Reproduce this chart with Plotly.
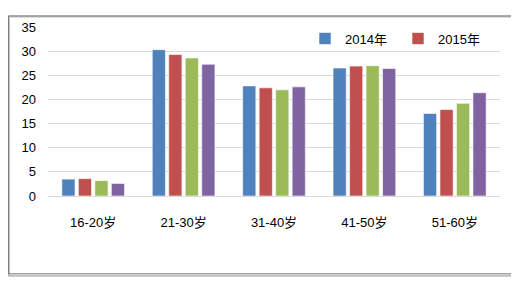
import plotly.graph_objects as go

categories = ["16-20岁", "21-30岁", "31-40岁", "41-50岁", "51-60岁"]
series_names = ["2014年", "2015年", "2016年", "2017年"]
v2014 = [3.5, 30.3, 22.8, 26.5, 17.1]
v2015 = [3.6, 29.3, 22.4, 26.9, 17.9]
v2016 = [3.2, 28.6, 22.0, 27.0, 19.2]
v2017 = [2.6, 27.3, 22.6, 26.4, 21.4]
colors = ["#4F81BD", "#C0504D", "#9BBB59", "#8064A2"]
y_ticks = [0, 5, 10, 15, 20, 25, 30, 35]

FONT = "Liberation Sans, Noto Sans CJK SC, sans-serif"

fig = go.Figure()
for name, vals, c, show in zip(series_names, [v2014, v2015, v2016, v2017], colors,
                               [True, True, False, False]):
    fig.add_trace(go.Bar(
        x=categories, y=vals, name=name, showlegend=show,
        marker=dict(color=c, line=dict(color="rgba(255,255,255,0.6)", width=1)),
    ))

# page body has an 8px margin; figure coordinates = window coordinates - 8
OFF = 8
W, H = 519 - OFF, 281 - OFF
L, T = 48 - OFF, 20 - OFF
R = W - (500 - OFF)
B = H - (196 - OFF)
pw, ph = W - L - R, H - T - B

def px(x):
    return (x - OFF - L) / pw

def py(y):
    return (H - B - (y - OFF)) / ph

fig.update_layout(
    width=W, height=H,
    margin=dict(l=L, r=R, t=T, b=B),
    paper_bgcolor="white", plot_bgcolor="white",
    barmode="group", bargap=0.27, bargroupgap=0.2,
    font=dict(family=FONT, size=12, color="#000000"),
    legend=dict(orientation="h", x=px(305), y=py(32), xanchor="left", yanchor="middle",
                font=dict(size=13), bgcolor="rgba(0,0,0,0)", entrywidth=48,
                itemwidth=30, tracegroupgap=0),
    xaxis=dict(showgrid=False, showline=True, linecolor="#D9D9D9", linewidth=1,
               ticks="", ticklabelstandoff=14, tickfont=dict(size=13)),
    yaxis=dict(range=[0, 35], tickvals=y_ticks, showgrid=True, gridcolor="#D9D9D9",
               gridwidth=1, zeroline=False, showline=False, ticks="",
               ticklabelstandoff=11, tickfont=dict(size=13)),
    shapes=[
        dict(type="rect", xref="paper", yref="paper",
             x0=px(9), x1=px(515), y0=py(279), y1=py(9),
             line=dict(color="#BFBFBF", width=2), layer="below"),
        dict(type="rect", xref="paper", yref="paper",
             x0=px(8.5), x1=px(513), y0=py(277), y1=py(8.5),
             line=dict(color="#7F7F7F", width=1), fillcolor="rgba(0,0,0,0)", layer="below"),
    ],
)

fig.write_html("out.html")
